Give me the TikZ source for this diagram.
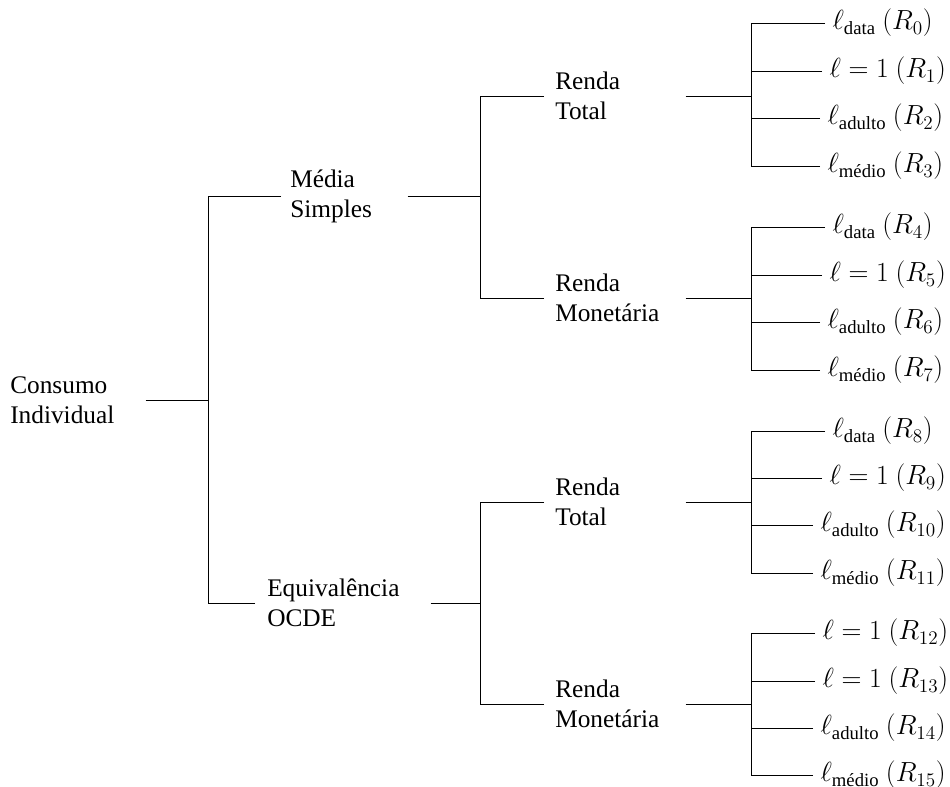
\documentclass[tikz,border=0pt]{standalone}
\usepackage{amsmath}
\usepackage{fontspec}
\setmainfont{Liberation Serif}
\begin{document}
\begin{tikzpicture}[x=0.75pt,y=-0.75pt,
  every node/.style={font=\fontsize{19}{22.5}\selectfont},
  lvl/.style={align=left, inner ysep=0pt, anchor=west},
  leaf/.style={inner xsep=5.5pt, inner ysep=0pt, anchor=west, font=\fontsize{20}{24}\selectfont},
  branch/.style={line width=0.7pt, black}]
\useasboundingbox (0,0) rectangle (950,787);

% inner nodes
\node[lvl, inner xsep=0pt, text width=101.25pt] (root) at (10,400) {Consumo\\Individual};
\node[lvl, inner xsep=6.75pt, text width=81pt] (ms) at (281,196) {Média\\Simples};
\node[lvl, inner xsep=9pt, text width=113.25pt] (eq) at (255,603) {Equivalência\\OCDE};
\node[lvl, inner xsep=8.25pt, text width=89.25pt] (rt1) at (544,96) {Renda\\Total};
\node[lvl, inner xsep=8.25pt, text width=89.25pt] (rm1) at (544,298) {Renda\\Monetária};
\node[lvl, inner xsep=8.25pt, text width=89.25pt] (rt2) at (544,502) {Renda\\Total};
\node[lvl, inner xsep=8.25pt, text width=89.25pt] (rm2) at (544,704) {Renda\\Monetária};

% junctions
\coordinate (j0) at (208,400);
\coordinate (j1) at (480,196);
\coordinate (j2) at (480,603);
\coordinate (j3) at (751,96);
\coordinate (j4) at (751,298);
\coordinate (j5) at (751,502);
\coordinate (j6) at (751,704);

% leaves
\node[leaf] (l0) at (825,23) {$\ell_{\text{data}}\ (R_0)$};
\node[leaf] (l1) at (822,71) {$\ell = 1\ (R_1)$};
\node[leaf] (l2) at (820,118) {$\ell_{\text{adulto}}\ (R_2)$};
\node[leaf] (l3) at (820,166) {$\ell_{\text{médio}}\ (R_3)$};
\node[leaf] (l4) at (825,227) {$\ell_{\text{data}}\ (R_4)$};
\node[leaf] (l5) at (822,275) {$\ell = 1\ (R_5)$};
\node[leaf] (l6) at (820,322) {$\ell_{\text{adulto}}\ (R_6)$};
\node[leaf] (l7) at (820,370) {$\ell_{\text{médio}}\ (R_7)$};
\node[leaf] (l8) at (825,431) {$\ell_{\text{data}}\ (R_8)$};
\node[leaf] (l9) at (822,478) {$\ell = 1\ (R_9)$};
\node[leaf] (l10) at (813,525) {$\ell_{\text{adulto}}\ (R_{10})$};
\node[leaf] (l11) at (813,573) {$\ell_{\text{médio}}\ (R_{11})$};
\node[leaf] (l12) at (815,633) {$\ell = 1\ (R_{12})$};
\node[leaf] (l13) at (815,681) {$\ell = 1\ (R_{13})$};
\node[leaf] (l14) at (813,728) {$\ell_{\text{adulto}}\ (R_{14})$};
\node[leaf] (l15) at (813,775) {$\ell_{\text{médio}}\ (R_{15})$};

% connectors
\draw[branch] (root.east) -- (j0);
\draw[branch] (ms.west) -| (j0);
\draw[branch] (eq.west) -| (j0);

\draw[branch] (ms.east) -- (j1);
\draw[branch] (rt1.west) -| (j1);
\draw[branch] (rm1.west) -| (j1);
\draw[branch] (eq.east) -- (j2);
\draw[branch] (rt2.west) -| (j2);
\draw[branch] (rm2.west) -| (j2);

\draw[branch] (rt1.east) -- (j3);
\draw[branch] (rm1.east) -- (j4);
\draw[branch] (rt2.east) -- (j5);
\draw[branch] (rm2.east) -- (j6);

\foreach \l in {l0,l1,l2,l3} \draw[branch] (\l.west) -| (j3);
\foreach \l in {l4,l5,l6,l7} \draw[branch] (\l.west) -| (j4);
\foreach \l in {l8,l9,l10,l11} \draw[branch] (\l.west) -| (j5);
\foreach \l in {l12,l13,l14,l15} \draw[branch] (\l.west) -| (j6);
\end{tikzpicture}
\end{document}
